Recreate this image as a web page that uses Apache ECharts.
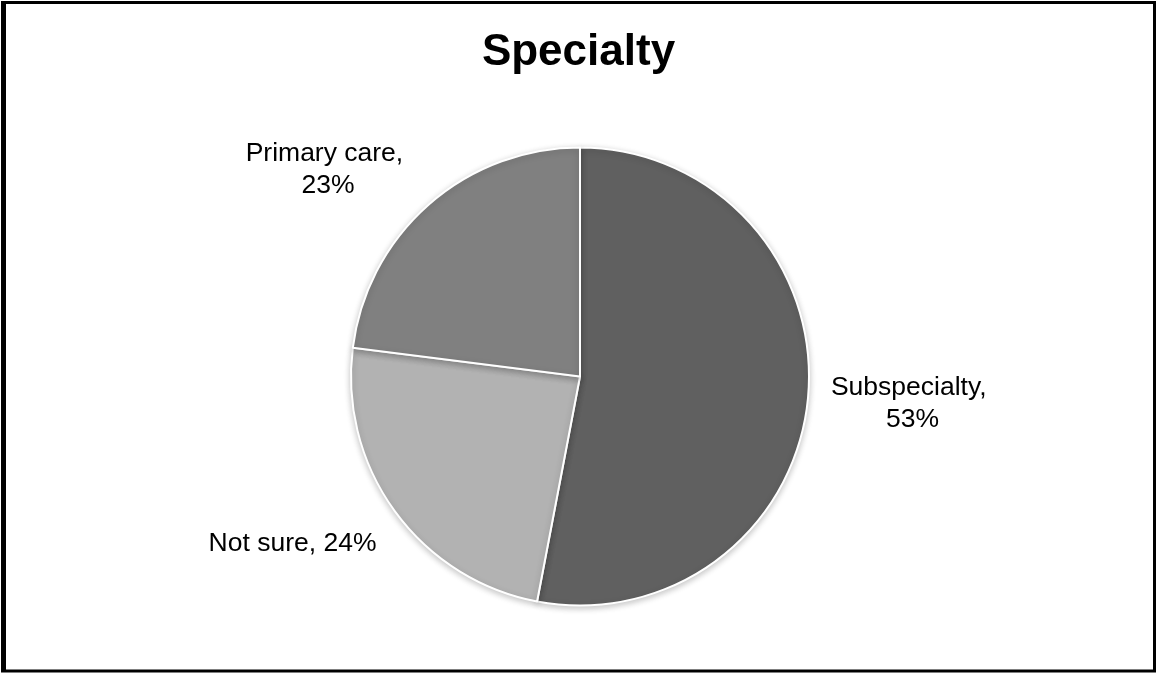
<!DOCTYPE html>
<html>
<head>
<meta charset="utf-8">
<title>Specialty</title>
<script src="https://cdn.jsdelivr.net/npm/echarts@6/dist/echarts.min.js"></script>
<style>
  html, body { margin: 0; padding: 0; background: #ffffff; }
  #chart { width: 1157px; height: 673px; }
</style>
</head>
<body>
<div id="chart"></div>
<script>
// Survey answers: preferred specialty (percent of respondents)
const categories = ['Subspecialty', 'Not sure', 'Primary care'];
const shares = [53, 24, 23];
const sliceColors = ['#606060', '#b2b2b2', '#808080'];

const FONT = '"Liberation Sans", Arial, Helvetica, sans-serif';
const W = 1157, H = 673;
const PIE_CX = 580, PIE_CY = 376.5, PIE_R = 229;
const LABEL_GAP = 12;      // radial distance from the rim to the label anchor
const LABEL_LIFT = 26;     // vertical shift of labels above/below the pie

const total = shares.reduce((a, b) => a + b, 0);
// mid angle of each slice, clockwise from 12 o'clock
const midAngles = [];
{
  let acc = 0;
  shares.forEach(v => {
    midAngles.push((acc + v / 2) / total * 2 * Math.PI);
    acc += v;
  });
}

const clamp = v => Math.max(-1, Math.min(1, v));

const chart = echarts.init(document.getElementById('chart'), null, { renderer: 'canvas' });

chart.setOption({
  backgroundColor: '#ffffff',
  animation: false,
  title: {
    text: 'Specialty',
    left: 'center',
    top: 31,
    padding: 0,
    textStyle: { fontFamily: FONT, fontSize: 44, fontWeight: 'bold', color: '#000000' }
  },
  graphic: [
    {
      type: 'rect',
      shape: { x: 2.5, y: 2.5, width: W - 5, height: H - 4.5 },
      style: { fill: 'none', stroke: '#000000', lineWidth: 3 },
      silent: true
    },
    {
      type: 'line',
      shape: { x1: 5, y1: 1, x2: 5, y2: H - 2 },
      style: { stroke: '#000000', lineWidth: 2 },
      silent: true
    }
  ],
  series: [{
    type: 'pie',
    center: [PIE_CX, PIE_CY],
    radius: [0, PIE_R],
    startAngle: 90,
    clockwise: true,
    data: categories.map((name, i) => ({
      name,
      value: shares[i],
      itemStyle: { color: sliceColors[i] }
    })),
    itemStyle: {
      borderColor: '#ffffff',
      borderWidth: 2,
      shadowBlur: 6,
      shadowColor: 'rgba(0,0,0,0.22)',
      shadowOffsetY: 2
    },
    label: {
      show: true,
      position: 'outside',
      formatter: p => p.name + ', ' + p.value + '%',
      width: 185,
      overflow: 'break',
      fontFamily: FONT,
      fontSize: 26.5,
      lineHeight: 32,
      color: '#000000'
    },
    labelLine: { show: false },
    emphasis: { disabled: true },
    // Each label sits just outside its slice, on the slice's mid-angle,
    // with the label's near side facing the pie.
    labelLayout: params => {
      const a = midAngles[params.dataIndex];
      const s = Math.sin(a), c = Math.cos(a);
      const d = PIE_R + LABEL_GAP;
      const px = PIE_CX + d * s;
      const py = PIE_CY - d * c;
      const w = params.labelRect.width;
      return {
        x: px + (w / 2) * clamp(s * 2),
        y: py - LABEL_LIFT * clamp(c * 2),
        align: 'center',
        verticalAlign: 'middle'
      };
    }
  }]
});
</script>
</body>
</html>
